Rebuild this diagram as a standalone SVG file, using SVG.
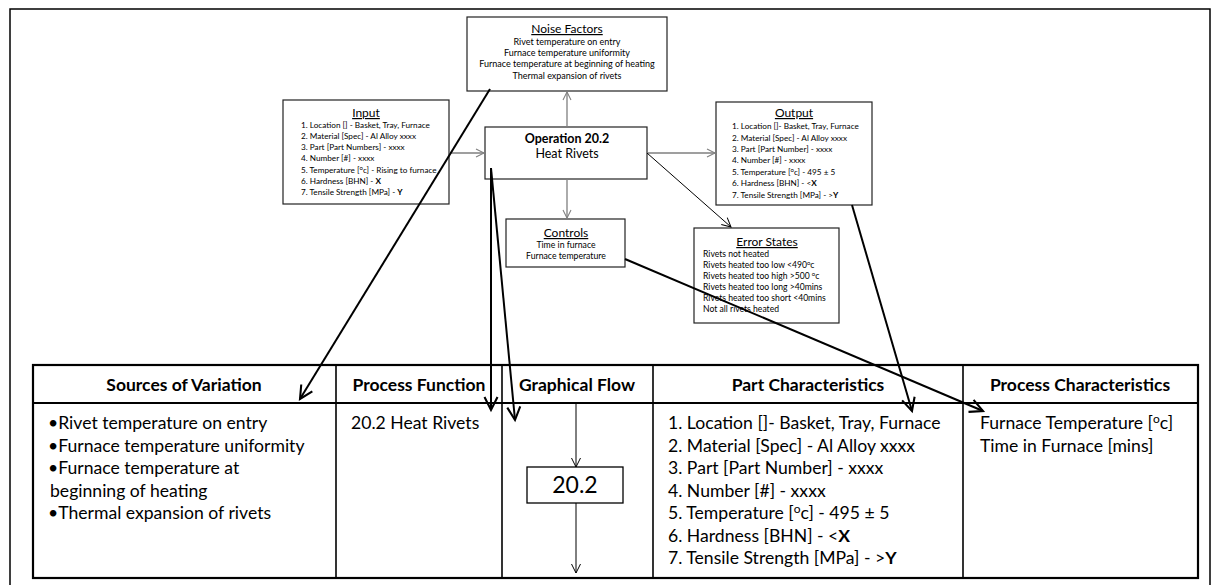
<svg xmlns="http://www.w3.org/2000/svg" width="1219" height="585" viewBox="0 0 1219 585">
  <style>
    .box { fill: #ffffff; stroke: #222222; stroke-width: 1.2; }
    .t { font-family: Lato, "Liberation Sans", sans-serif; fill: #000000; }
    .ttl { font-size: 12px; text-decoration: underline; text-anchor: middle; }
    .sm { font-size: 8.2px; }
    .es { font-size: 8.6px; }
    .smc { font-size: 8.7px; text-anchor: middle; }
    .nf { font-size: 9px; text-anchor: middle; }
    .op { font-size: 12.5px; text-anchor: middle; }
    .hd { font-size: 17.5px; font-weight: bold; text-anchor: middle; }
    .bd { font-size: 17.6px; }
    .grey { stroke: #7f7f7f; stroke-width: 1.3; fill: none; }
    .thin { stroke: #000000; stroke-width: 1; fill: none; }
    .thick { stroke: #000000; stroke-width: 2; fill: none; }
    .grid { stroke: #000000; fill: none; }
  </style>
  <defs>
    <marker id="vGrey" viewBox="0 0 10 10" refX="10" refY="5" markerWidth="8" markerHeight="9" markerUnits="userSpaceOnUse" orient="auto" overflow="visible">
      <path d="M0,0 L10,5 L0,10" fill="none" stroke="#7f7f7f" stroke-width="1.3"/>
    </marker>
    <marker id="vThin" viewBox="0 0 10 10" refX="10" refY="5" markerWidth="9" markerHeight="10" markerUnits="userSpaceOnUse" orient="auto" overflow="visible">
      <path d="M0,0 L10,5 L0,10" fill="none" stroke="#000000" stroke-width="1.1"/>
    </marker>
    <marker id="vThick" viewBox="0 0 10 10" refX="10" refY="5" markerWidth="13" markerHeight="13" markerUnits="userSpaceOnUse" orient="auto" overflow="visible">
      <path d="M0,0 L10,5 L0,10" fill="none" stroke="#000000" stroke-width="1.6"/>
    </marker>
  </defs>

  <rect width="1219" height="585" fill="#ffffff"/>
  <!-- page frame -->
  <rect x="10" y="9" width="1200" height="580" fill="none" stroke="#000000" stroke-width="1.5"/>

  <!-- process diagram nodes -->
  <g id="noise-factors">
    <rect class="box" x="467" y="17" width="200" height="74"/>
    <text class="t ttl" x="567" y="33">Noise Factors</text>
    <text class="t nf" x="567" y="45">Rivet temperature on entry</text>
    <text class="t nf" x="567" y="56">Furnace temperature uniformity</text>
    <text class="t nf" x="567" y="67">Furnace temperature at beginning of heating</text>
    <text class="t nf" x="567" y="79">Thermal expansion of rivets</text>
  </g>

  <g id="input">
    <rect class="box" x="283" y="100" width="166" height="104"/>
    <text class="t ttl" x="366" y="117">Input</text>
    <text class="t sm" x="301" y="128">1. Location [] - Basket, Tray, Furnace</text>
    <text class="t sm" x="301" y="139">2. Material [Spec] - Al Alloy xxxx</text>
    <text class="t sm" x="301" y="150">3. Part [Part Numbers] - xxxx</text>
    <text class="t sm" x="301" y="161">4. Number [#] - xxxx</text>
    <text class="t sm" x="301" y="173">5. Temperature [<tspan font-size="6px" dy="-3">o</tspan><tspan dy="3">c] - Rising to furnace</tspan></text>
    <text class="t sm" x="301" y="184">6. Hardness [BHN] - <tspan font-weight="bold">X</tspan></text>
    <text class="t sm" x="301" y="195">7. Tensile Strength [MPa] - <tspan font-weight="bold">Y</tspan></text>
  </g>

  <g id="operation">
    <rect class="box" x="485" y="127" width="162" height="52"/>
    <text class="t op" x="567" y="143" font-weight="bold" font-size="12px">Operation 20.2</text>
    <text class="t op" x="567" y="158">Heat Rivets</text>
  </g>

  <g id="output">
    <rect class="box" x="716" y="102" width="156" height="103"/>
    <text class="t ttl" x="794" y="117">Output</text>
    <text class="t sm" x="732" y="129">1. Location []- Basket, Tray, Furnace</text>
    <text class="t sm" x="732" y="141">2. Material [Spec] - Al Alloy xxxx</text>
    <text class="t sm" x="732" y="152">3. Part [Part Number] - xxxx</text>
    <text class="t sm" x="732" y="163">4. Number [#] - xxxx</text>
    <text class="t sm" x="732" y="175">5. Temperature [<tspan font-size="6px" dy="-3">o</tspan><tspan dy="3">c] - 495 ± 5</tspan></text>
    <text class="t sm" x="732" y="186">6. Hardness [BHN] - &lt;<tspan font-weight="bold">X</tspan></text>
    <text class="t sm" x="732" y="198">7. Tensile Strength [MPa] - &gt;<tspan font-weight="bold">Y</tspan></text>
  </g>

  <g id="controls">
    <rect class="box" x="506" y="219" width="119" height="48"/>
    <text class="t ttl" x="566" y="237">Controls</text>
    <text class="t smc" x="566" y="248">Time in furnace</text>
    <text class="t smc" x="566" y="259">Furnace temperature</text>
  </g>

  <g id="error-states">
    <rect class="box" x="694" y="228" width="145" height="95"/>
    <text class="t ttl" x="767" y="246">Error States</text>
    <text class="t es" x="703" y="257">Rivets not heated</text>
    <text class="t es" x="703" y="268">Rivets heated too low &lt;490<tspan font-size="6px" dy="-3">o</tspan><tspan dy="3">c</tspan></text>
    <text class="t es" x="703" y="279">Rivets heated too high &gt;500 <tspan font-size="6px" dy="-3">o</tspan><tspan dy="3">c</tspan></text>
    <text class="t es" x="703" y="290">Rivets heated too long &gt;40mins</text>
    <text class="t es" x="703" y="301">Rivets heated too short &lt;40mins</text>
    <text class="t es" x="703" y="312">Not all rivets heated</text>
  </g>

  <!-- process flow table -->
  <g id="table">
    <rect class="grid" x="33" y="365" width="1165" height="213" stroke-width="2.2"/>
    <line class="grid" x1="33" y1="403" x2="1198" y2="403" stroke-width="2.2"/>
    <line class="grid" x1="336" y1="365" x2="336" y2="578" stroke-width="1.6"/>
    <line class="grid" x1="502" y1="365" x2="502" y2="578" stroke-width="1.6"/>
    <line class="grid" x1="653" y1="365" x2="653" y2="578" stroke-width="1.6"/>
    <line class="grid" x1="963" y1="365" x2="963" y2="578" stroke-width="1.6"/>

    <text class="t hd" x="184" y="391">Sources of Variation</text>
    <text class="t hd" x="419" y="391">Process Function</text>
    <text class="t hd" x="577" y="391">Graphical Flow</text>
    <text class="t hd" x="808" y="391">Part Characteristics</text>
    <text class="t hd" x="1080" y="391">Process Characteristics</text>

    <g class="t bd">
      <text x="48" y="429">•Rivet temperature on entry</text>
      <text x="48" y="452">•Furnace temperature uniformity</text>
      <text x="48" y="474">•Furnace temperature at</text>
      <text x="50" y="497">beginning of heating</text>
      <text x="48" y="519">•Thermal expansion of rivets</text>

      <text x="351" y="429">20.2 Heat Rivets</text>

      <text x="668" y="429">1. Location []- Basket, Tray, Furnace</text>
      <text x="668" y="452">2. Material [Spec] - Al Alloy xxxx</text>
      <text x="668" y="474">3. Part [Part Number] - xxxx</text>
      <text x="668" y="497">4. Number [#] - xxxx</text>
      <text x="668" y="519">5. Temperature [<tspan font-size="12px" dy="-6">o</tspan><tspan dy="6">c] - 495 ± 5</tspan></text>
      <text x="668" y="542">6. Hardness [BHN] - &lt;<tspan font-weight="bold">X</tspan></text>
      <text x="668" y="564">7. Tensile Strength [MPa] - &gt;<tspan font-weight="bold">Y</tspan></text>

      <text x="980" y="429">Furnace Temperature [<tspan font-size="12px" dy="-6">o</tspan><tspan dy="6">c]</tspan></text>
      <text x="980" y="452">Time in Furnace [mins]</text>
    </g>
  </g>

  <g id="step-20-2">
    <rect x="527" y="467" width="96" height="36" fill="#ffffff" stroke="#000000" stroke-width="1.3"/>
    <text class="t" x="575" y="493" font-size="23px" text-anchor="middle">20.2</text>
  </g>

  <!-- connectors -->
  <g id="connectors">
    <line class="grey" x1="449" y1="153" x2="484" y2="153" marker-end="url(#vGrey)"/>
    <line class="grey" x1="567" y1="127" x2="567" y2="92" marker-end="url(#vGrey)"/>
    <line class="grey" x1="567" y1="179" x2="567" y2="218" marker-end="url(#vGrey)"/>
    <line class="grey" x1="647" y1="153" x2="715" y2="153" marker-end="url(#vGrey)"/>
    <line class="thin" x1="647" y1="153" x2="731" y2="227" marker-end="url(#vThin)"/>

    <line class="thick" x1="490" y1="89" x2="300" y2="399" marker-end="url(#vThick)"/>
    <line class="thick" x1="491" y1="168" x2="491" y2="410" marker-end="url(#vThick)"/>
    <line class="thick" x1="491" y1="168" x2="515" y2="420" marker-end="url(#vThick)"/>
    <line class="thick" x1="852" y1="205" x2="912" y2="411" marker-end="url(#vThick)"/>
    <line class="thick" x1="625" y1="259" x2="983" y2="411" marker-end="url(#vThick)"/>

    <line class="thin" x1="576" y1="404" x2="576" y2="467" marker-end="url(#vThin)"/>
    <line class="thin" x1="576" y1="503" x2="576" y2="573" marker-end="url(#vThin)"/>
  </g>
</svg>
